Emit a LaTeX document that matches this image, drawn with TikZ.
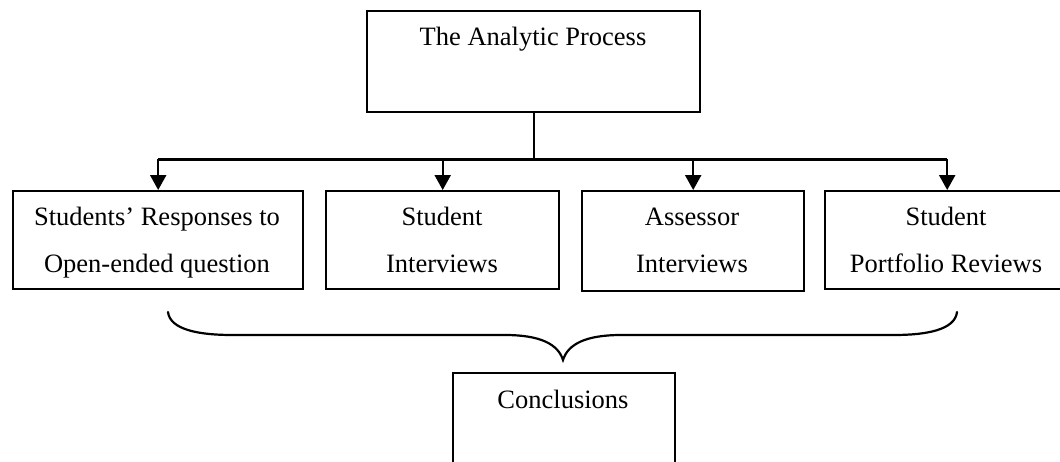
\documentclass[tikz,border=0pt]{standalone}
\usepackage{fontspec}
\setmainfont{Liberation Serif}
\usetikzlibrary{arrows.meta}
\tikzset{
  boxnode/.style={draw, line width=2.4pt, inner sep=0pt, anchor=north west},
  txt/.style={inner sep=0pt, anchor=base, align=center,
    font=\fontsize{26.5}{47}\selectfont},
  link/.style={line width=2.2pt},
  arr/.style={link, -{Triangle[width=16pt,length=15pt]}},
  bracepath/.style={line width=2.2pt, line cap=round}
}
\begin{document}
\begin{tikzpicture}[x=1pt, y=-1pt]
  \useasboundingbox (0,0) rectangle (1060,461);
  \clip (0,0) rectangle (1060,461);

  % boxes
  \node[boxnode, minimum width=333pt, minimum height=101pt] (top) at (366,10) {};
  \node[boxnode, minimum width=290pt, minimum height=98pt]  (b1)  at (12,190) {};
  \node[boxnode, minimum width=233pt, minimum height=98pt]  (b2)  at (325,190) {};
  \node[boxnode, minimum width=222pt, minimum height=100pt] (b3)  at (581,190) {};
  \node[boxnode, minimum width=244pt, minimum height=98pt]  (b4)  at (824,190) {};
  \node[boxnode, minimum width=222pt, minimum height=100pt] (con) at (452,372) {};

  % texts (base anchor sits on the last line)
  \node[txt] (ttop) at (533,45)  {The Analytic Process};
  \node[txt] (t1)   at (157,272) {Students’ Responses to\\Open-ended question};
  \node[txt] (t2)   at (442,272) {Student\\Interviews};
  \node[txt] (t3)   at (692,272) {Assessor\\Interviews};
  \node[txt] (t4)   at (946,272) {Student\\Portfolio Reviews};
  \node[txt] (tcon) at (563,408) {Conclusions};

  % tree connectors
  \path (top.south) ++(0,46) coordinate (split);
  \draw[link] (top.south) -- (split);
  \draw[link] (b1.north |- split) -- (b4.north |- split);
  \draw[arr] (b1.north |- split) -- (b1.north);
  \draw[arr] (b2.north |- split) -- (b2.north);
  \draw[arr] (b3.north |- split) -- (b3.north);
  \draw[arr] (b4.north |- split) -- (b4.north);

  % brace gathering the four sources
  \coordinate (bl) at (168,312);
  \coordinate (bm) at (563,360);
  \coordinate (br) at (957,312);
  \draw[bracepath] (bl) .. controls (170,330) and (200,335) .. (232,335)
    -- (505,335) .. controls (540,335) and (558,344) .. (bm)
    .. controls (568,344) and (586,335) .. (621,335)
    -- (894,335) .. controls (926,335) and (955,330) .. (br);
\end{tikzpicture}
\end{document}
